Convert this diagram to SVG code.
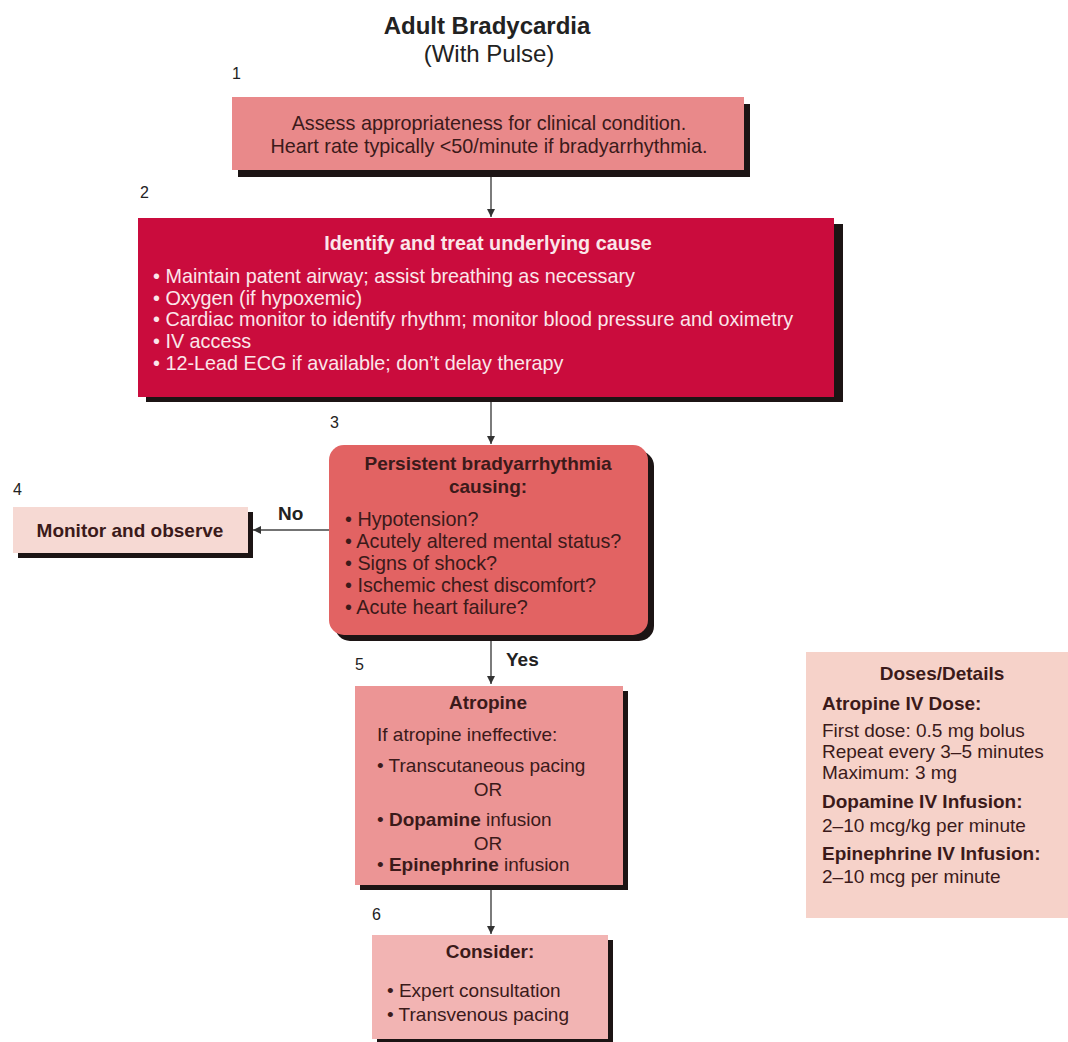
<svg xmlns="http://www.w3.org/2000/svg" width="1068" height="1042" viewBox="0 0 1068 1042">
  <defs>
    <marker id="arrow" viewBox="0 0 10 10" refX="10" refY="5" markerWidth="8" markerHeight="8" markerUnits="userSpaceOnUse" orient="auto">
      <path d="M0,0 L10,5 L0,10 Z" fill="#333"/>
    </marker>
    <style>
      text { font-family: "Liberation Sans", Arial, sans-serif; fill: #3b1a1a; }
      .title { font-size: 24px; font-weight: bold; fill: #222; }
      .subtitle { font-size: 24px; fill: #222; }
      .num { font-size: 16px; fill: #222; }
      .body { font-size: 19px; }
      .wide { font-size: 19.8px; }
      .bold { font-weight: bold; }
      .mid { text-anchor: middle; }
      .light { fill: #fbe6ea; }
      .shadow { fill: #1c1414; }
      .conn { stroke: #444; stroke-width: 1.4; fill: none; marker-end: url(#arrow); }
      .label { font-size: 19px; font-weight: bold; fill: #222; }
    </style>
  </defs>

  <rect width="1068" height="1042" fill="#ffffff"/>

  <!-- Heading -->
  <g id="heading">
    <text class="title mid" x="487" y="34">Adult Bradycardia</text>
    <text class="subtitle mid" x="489" y="62">(With Pulse)</text>
  </g>

  <!-- Connectors -->
  <g id="connectors">
    <line class="conn" x1="491" y1="177" x2="491" y2="217"/>
    <line class="conn" x1="491" y1="402" x2="491" y2="444"/>
    <line class="conn" x1="329" y1="530" x2="253" y2="530"/>
    <line class="conn" x1="491" y1="641" x2="491" y2="684"/>
    <line class="conn" x1="491" y1="890" x2="491" y2="934"/>
    <text class="label" x="278" y="520">No</text>
    <text class="label" x="506" y="666">Yes</text>
  </g>

  <!-- Step 1 -->
  <g id="step1">
    <text class="num" x="232" y="79">1</text>
    <rect class="shadow" x="238" y="104" width="512" height="73"/>
    <rect x="232" y="97" width="512" height="73" fill="#e9898a"/>
    <text class="wide mid" x="489" y="130">Assess appropriateness for clinical condition.</text>
    <text class="wide mid" x="489" y="153">Heart rate typically &lt;50/minute if bradyarrhythmia.</text>
  </g>

  <!-- Step 2 -->
  <g id="step2">
    <text class="num" x="140" y="198">2</text>
    <rect class="shadow" x="146" y="224" width="697" height="178"/>
    <rect x="138" y="218" width="696" height="179" fill="#ca0c3d"/>
    <text class="wide bold mid light" x="488" y="250">Identify and treat underlying cause</text>
    <text class="wide light" x="153" y="283">• Maintain patent airway; assist breathing as necessary</text>
    <text class="wide light" x="153" y="305">• Oxygen (if hypoxemic)</text>
    <text class="wide light" x="153" y="326">• Cardiac monitor to identify rhythm; monitor blood pressure and oximetry</text>
    <text class="wide light" x="153" y="348">• IV access</text>
    <text class="wide light" x="153" y="370">• 12-Lead ECG if available; don’t delay therapy</text>
  </g>

  <!-- Step 3 -->
  <g id="step3">
    <text class="num" x="330" y="428">3</text>
    <rect class="shadow" x="335" y="451" width="319" height="190" rx="15"/>
    <rect x="329" y="445" width="319" height="190" rx="15" fill="#e26363"/>
    <text class="body bold mid" x="488" y="470">Persistent bradyarrhythmia</text>
    <text class="body bold mid" x="488" y="493">causing:</text>
    <text class="wide" x="345" y="526">• Hypotension?</text>
    <text class="wide" x="345" y="548">• Acutely altered mental status?</text>
    <text class="wide" x="345" y="570">• Signs of shock?</text>
    <text class="wide" x="345" y="592">• Ischemic chest discomfort?</text>
    <text class="wide" x="345" y="614">• Acute heart failure?</text>
  </g>

  <!-- Step 4 -->
  <g id="step4">
    <text class="num" x="13" y="495">4</text>
    <rect class="shadow" x="18" y="512" width="235" height="46"/>
    <rect x="13" y="507" width="235" height="46" fill="#f6d9d3"/>
    <text class="body bold mid" x="130" y="537">Monitor and observe</text>
  </g>

  <!-- Step 5 -->
  <g id="step5">
    <text class="num" x="355" y="670">5</text>
    <rect class="shadow" x="360" y="691" width="268" height="199"/>
    <rect x="355" y="686" width="268" height="199" fill="#ec9595"/>
    <text class="body bold mid" x="488" y="709">Atropine</text>
    <text class="body" x="377" y="741">If atropine ineffective:</text>
    <text class="body" x="377" y="772">• Transcutaneous pacing</text>
    <text class="body mid" x="488" y="796">OR</text>
    <text class="body" x="377" y="826">• <tspan class="bold">Dopamine</tspan> infusion</text>
    <text class="body mid" x="488" y="850">OR</text>
    <text class="body" x="377" y="871">• <tspan class="bold">Epinephrine</tspan> infusion</text>
  </g>

  <!-- Step 6 -->
  <g id="step6">
    <text class="num" x="372" y="920">6</text>
    <rect class="shadow" x="377" y="940" width="236" height="104"/>
    <rect x="372" y="935" width="236" height="104" fill="#f2b4b3"/>
    <text class="body bold mid" x="490" y="958">Consider:</text>
    <text class="body" x="387" y="997">• Expert consultation</text>
    <text class="body" x="387" y="1021">• Transvenous pacing</text>
  </g>

  <!-- Doses / details panel -->
  <g id="doses">
    <rect x="806" y="652" width="262" height="266" fill="#f6d2c9"/>
    <text class="body bold mid" x="942" y="680">Doses/Details</text>
    <text class="body bold" x="822" y="710">Atropine IV Dose:</text>
    <text class="body" x="822" y="737">First dose: 0.5 mg bolus</text>
    <text class="body" x="822" y="758">Repeat every 3–5 minutes</text>
    <text class="body" x="822" y="779">Maximum: 3 mg</text>
    <text class="body bold" x="822" y="808">Dopamine IV Infusion:</text>
    <text class="body" x="822" y="832">2–10 mcg/kg per minute</text>
    <text class="body bold" x="822" y="860">Epinephrine IV Infusion:</text>
    <text class="body" x="822" y="883">2–10 mcg per minute</text>
  </g>
</svg>
